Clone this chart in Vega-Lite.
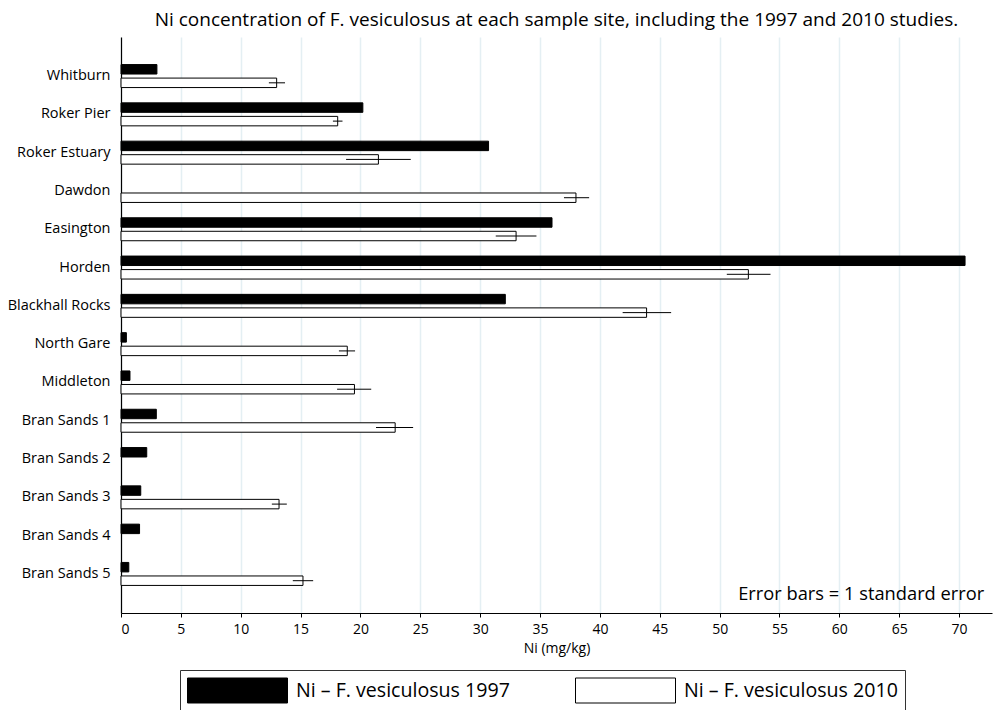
{
  "$schema": "https://vega.github.io/schema/vega-lite/v6.json",
  "autosize": {"type": "none"},
  "padding": {"left": 121, "top": 37, "right": 6, "bottom": 97},
  "width": 871,
  "height": 576,
  "background": "white",
  "title": {
    "text": "Ni concentration of F. vesiculosus at each sample site, including the 1997 and 2010 studies.",
    "font": "Open Sans",
    "fontSize": 19,
    "fontWeight": "normal",
    "color": "black",
    "anchor": "middle",
    "offset": 7
  },
  "data": {
    "values": [
      {"site": "Whitburn", "series": "Ni – F. vesiculosus 1997", "value": 3.0},
      {"site": "Whitburn", "series": "Ni – F. vesiculosus 2010", "value": 13.0, "lo": 12.35, "hi": 13.7},
      {"site": "Roker Pier", "series": "Ni – F. vesiculosus 1997", "value": 20.2},
      {"site": "Roker Pier", "series": "Ni – F. vesiculosus 2010", "value": 18.1, "lo": 17.7, "hi": 18.5},
      {"site": "Roker Estuary", "series": "Ni – F. vesiculosus 1997", "value": 30.7},
      {"site": "Roker Estuary", "series": "Ni – F. vesiculosus 2010", "value": 21.5, "lo": 18.8, "hi": 24.2},
      {"site": "Dawdon", "series": "Ni – F. vesiculosus 2010", "value": 38.0, "lo": 37.0, "hi": 39.1},
      {"site": "Easington", "series": "Ni – F. vesiculosus 1997", "value": 36.0},
      {"site": "Easington", "series": "Ni – F. vesiculosus 2010", "value": 33.0, "lo": 31.3, "hi": 34.7},
      {"site": "Horden", "series": "Ni – F. vesiculosus 1997", "value": 70.5},
      {"site": "Horden", "series": "Ni – F. vesiculosus 2010", "value": 52.4, "lo": 50.6, "hi": 54.25},
      {"site": "Blackhall Rocks", "series": "Ni – F. vesiculosus 1997", "value": 32.1},
      {"site": "Blackhall Rocks", "series": "Ni – F. vesiculosus 2010", "value": 43.9, "lo": 41.9, "hi": 45.95},
      {"site": "North Gare", "series": "Ni – F. vesiculosus 1997", "value": 0.45},
      {"site": "North Gare", "series": "Ni – F. vesiculosus 2010", "value": 18.9, "lo": 18.2, "hi": 19.55},
      {"site": "Middleton", "series": "Ni – F. vesiculosus 1997", "value": 0.75},
      {"site": "Middleton", "series": "Ni – F. vesiculosus 2010", "value": 19.5, "lo": 18.05, "hi": 20.9},
      {"site": "Bran Sands 1", "series": "Ni – F. vesiculosus 1997", "value": 2.95},
      {"site": "Bran Sands 1", "series": "Ni – F. vesiculosus 2010", "value": 22.9, "lo": 21.3, "hi": 24.4},
      {"site": "Bran Sands 2", "series": "Ni – F. vesiculosus 1997", "value": 2.15},
      {"site": "Bran Sands 3", "series": "Ni – F. vesiculosus 1997", "value": 1.65},
      {"site": "Bran Sands 3", "series": "Ni – F. vesiculosus 2010", "value": 13.2, "lo": 12.6, "hi": 13.85},
      {"site": "Bran Sands 4", "series": "Ni – F. vesiculosus 1997", "value": 1.55},
      {"site": "Bran Sands 5", "series": "Ni – F. vesiculosus 1997", "value": 0.65},
      {"site": "Bran Sands 5", "series": "Ni – F. vesiculosus 2010", "value": 15.2, "lo": 14.35, "hi": 16.05}
    ]
  },
  "encoding": {
    "y": {
      "field": "site",
      "type": "nominal",
      "scale": {
        "domain": ["Whitburn", "Roker Pier", "Roker Estuary", "Dawdon", "Easington", "Horden", "Blackhall Rocks", "North Gare", "Middleton", "Bran Sands 1", "Bran Sands 2", "Bran Sands 3", "Bran Sands 4", "Bran Sands 5"],
        "paddingInner": 0.4,
        "paddingOuter": 0.72
      },
      "axis": {
        "title": null,
        "ticks": false,
        "tickSize": 0,
        "labelPadding": 11,
        "labelFont": "Open Sans",
        "labelFontSize": 14.5,
        "labelColor": "black",
        "domainColor": "black",
        "domainWidth": 1.2,
        "grid": false
      }
    },
    "yOffset": {
      "field": "series",
      "type": "nominal",
      "scale": {
        "domain": ["Ni – F. vesiculosus 1997", "Ni – F. vesiculosus 2010"],
        "paddingInner": 0.3,
        "paddingOuter": 0
      }
    }
  },
  "layer": [
    {
      "mark": {"type": "bar", "stroke": "black", "strokeWidth": 1},
      "encoding": {
        "x": {
          "field": "value",
          "type": "quantitative",
          "scale": {"domain": [0, 72.75], "nice": false, "zero": true},
          "axis": {
            "title": "Ni (mg/kg)",
            "titleFont": "Open Sans",
            "titleFontSize": 14,
            "titleFontWeight": "normal",
            "titleColor": "black",
            "titlePadding": 5,
            "values": [0, 5, 10, 15, 20, 25, 30, 35, 40, 45, 50, 55, 60, 65, 70],
            "labelFont": "Open Sans",
            "labelFontSize": 14,
            "labelColor": "black",
            "labelPadding": 5,
            "tickSize": 4,
            "tickColor": "black",
            "domainColor": "black",
            "domainWidth": 1.2,
            "grid": true,
            "gridColor": "#e4eff3",
            "gridWidth": 1.5
          }
        },
        "fill": {
          "field": "series",
          "type": "nominal",
          "scale": {
            "domain": ["Ni – F. vesiculosus 1997", "Ni – F. vesiculosus 2010"],
            "range": ["black", "white"]
          },
          "legend": {
            "title": null,
            "orient": "none",
            "legendX": 59,
            "legendY": 633,
            "direction": "horizontal",
            "columns": 2,
            "columnPadding": 65,
            "symbolType": "M-1,-0.25H1V0.25H-1Z",
            "symbolSize": 10000,
            "symbolStrokeColor": "black",
            "symbolStrokeWidth": 1,
            "symbolOpacity": 1,
            "clipHeight": 27,
            "labelFont": "Open Sans",
            "labelFontSize": 19.6,
            "labelColor": "black",
            "labelOffset": 8,
            "labelLimit": 400,
            "padding": 7,
            "strokeColor": "#333333"
          }
        }
      }
    },
    {
      "transform": [{"filter": "isValid(datum.lo)"}],
      "mark": {"type": "rule", "color": "black", "strokeWidth": 1},
      "encoding": {
        "x": {"field": "lo", "type": "quantitative"},
        "x2": {"field": "hi"}
      }
    },
    {
      "data": {"values": [{"note": "Error bars = 1 standard error", "pos": 72.1, "site": "Bran Sands 5", "series": "Ni – F. vesiculosus 2010"}]},
      "mark": {"type": "text", "align": "right", "baseline": "alphabetic", "dy": 19, "font": "Open Sans", "fontSize": 18.3, "color": "black"},
      "encoding": {
        "x": {"field": "pos", "type": "quantitative"},
        "text": {"field": "note"}
      }
    }
  ],
  "config": {
    "view": {"stroke": null}
  }
}
